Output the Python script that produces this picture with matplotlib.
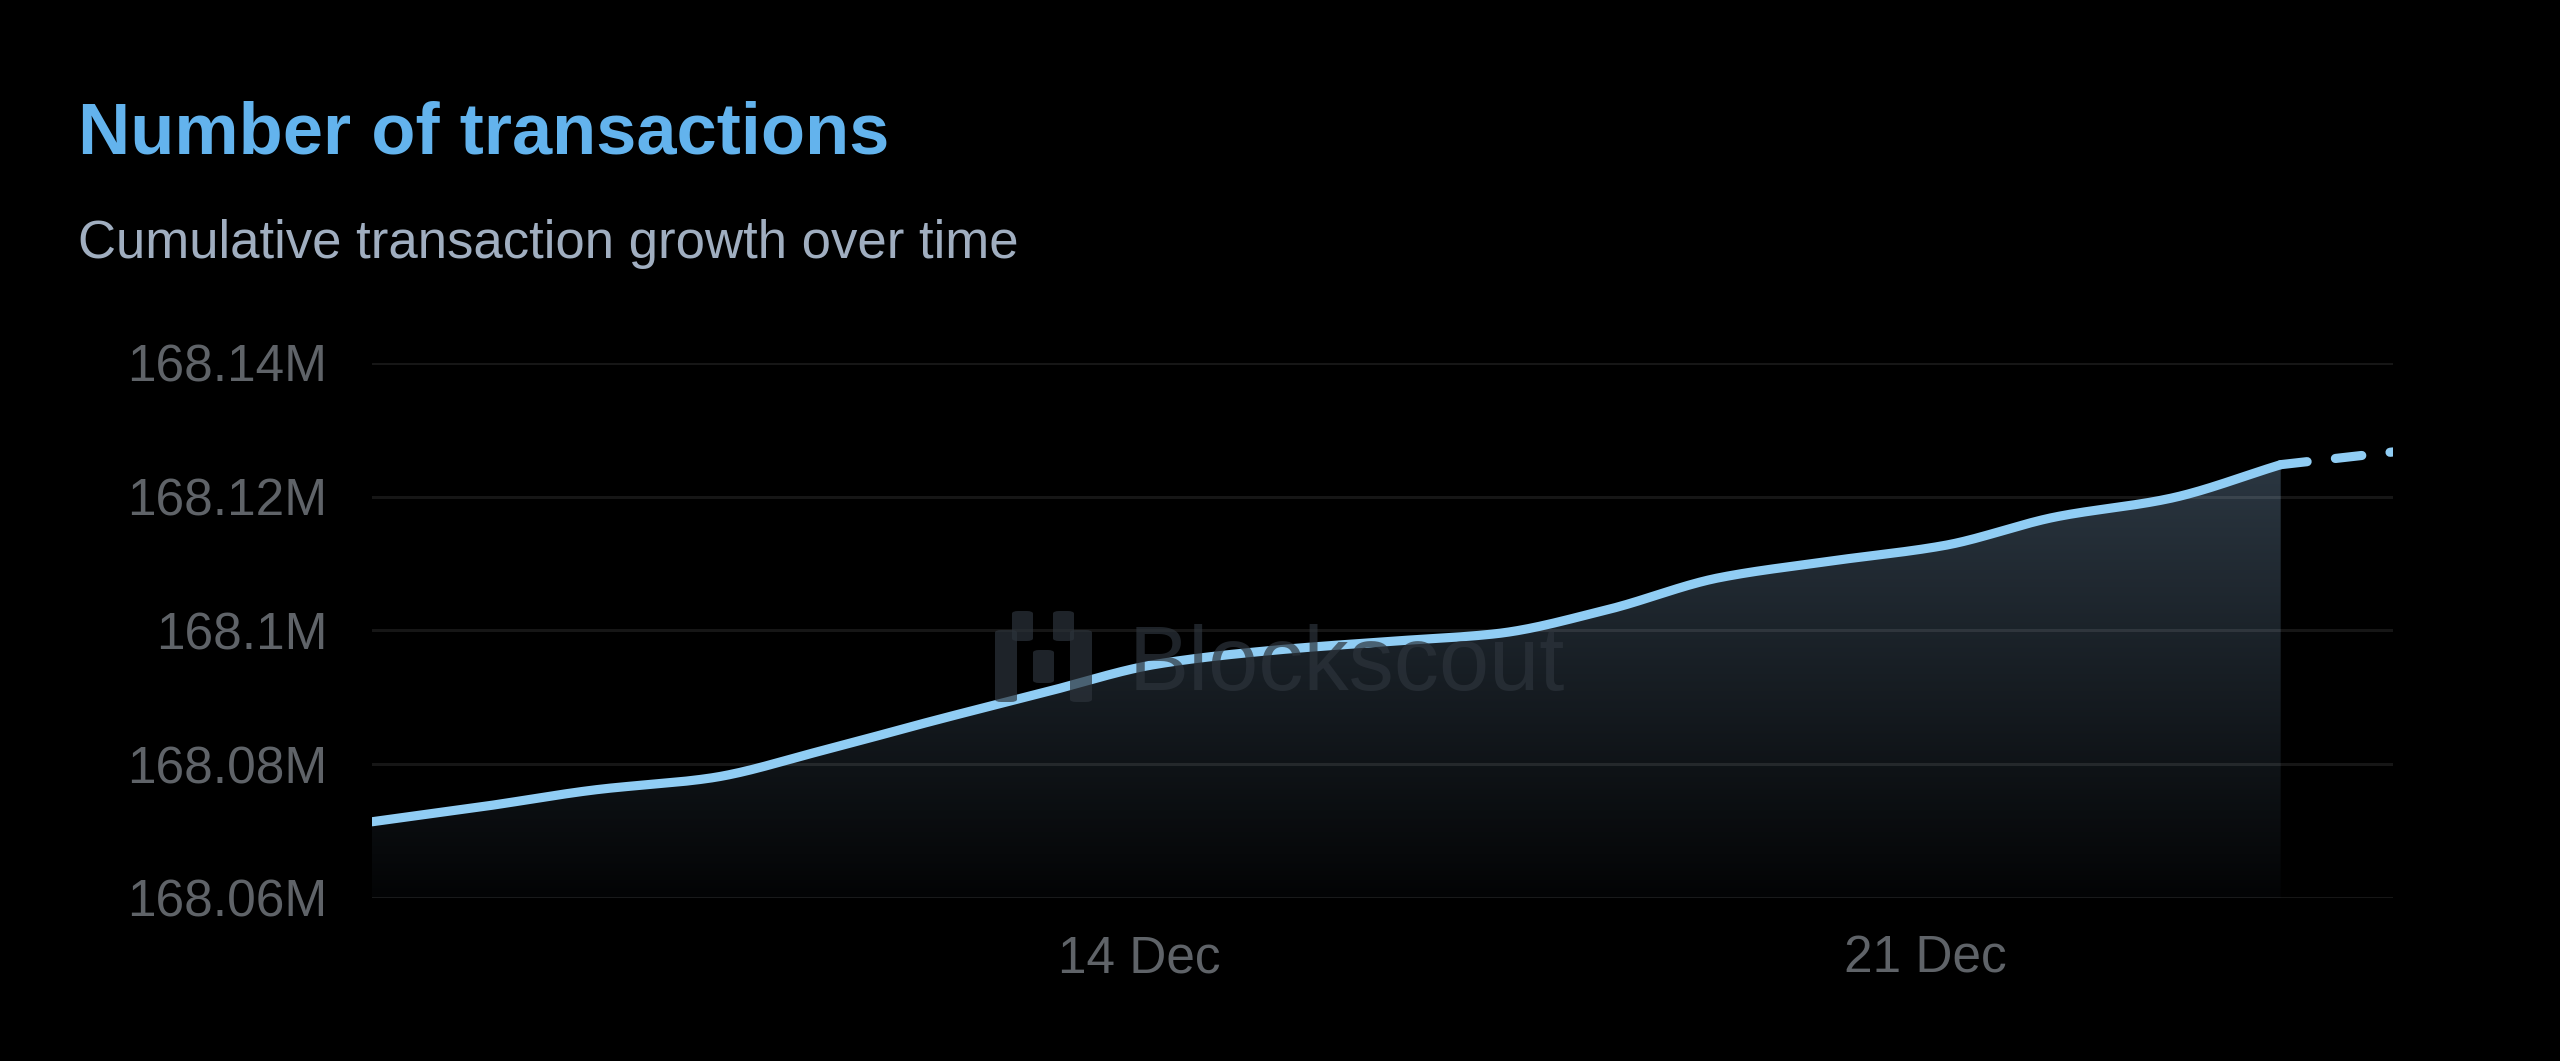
import numpy as np
import pandas as pd
import matplotlib
matplotlib.use("Agg")
import matplotlib.pyplot as plt
import matplotlib.transforms as mtransforms
from matplotlib.patches import FancyBboxPatch
from matplotlib.ticker import FuncFormatter

# Data: cumulative transactions, daily
dates = pd.date_range("2024-12-07", periods=19, freq="D")
tx_total = [168071400, 168073700, 168076200, 168077900, 168082000, 168086500,
            168090800, 168095000, 168097000, 168098300, 168099500, 168103100,
            168107900, 168110400, 168112700, 168117000, 168119700, 168124800,
            168126700]
n_solid = 18  # last point is the incomplete day (dashed)

y_ticks = [168060000, 168080000, 168100000, 168120000, 168140000]
x_ticks = [pd.Timestamp("2024-12-14"), pd.Timestamp("2024-12-21")]
x_labels = ["14 Dec", "21 Dec"]

title = "Number of transactions"
subtitle = "Cumulative transaction growth over time"

plt.rcParams["font.family"] = ["Liberation Sans", "DejaVu Sans"]

bg = "#000000"
line_col = "#90CDF4"
tick_col = "#5F6368"


def monotone(x, y, n=40):
    # monotone cubic curve through the points (like d3 curveMonotoneX)
    x = np.asarray(x, float)
    y = np.asarray(y, float)
    h = np.diff(x)
    d = np.diff(y) / h
    m = np.zeros_like(y)
    m[0], m[-1] = d[0], d[-1]
    for i in range(1, len(y) - 1):
        if d[i - 1] * d[i] <= 0:
            m[i] = 0
        else:
            w1 = 2 * h[i] + h[i - 1]
            w2 = h[i] + 2 * h[i - 1]
            m[i] = (w1 + w2) / (w1 / d[i - 1] + w2 / d[i])
    xs, ys = [], []
    for i in range(len(x) - 1):
        t = np.linspace(0, 1, n, endpoint=False)
        h00 = 2 * t**3 - 3 * t**2 + 1
        h10 = t**3 - 2 * t**2 + t
        h01 = -2 * t**3 + 3 * t**2
        h11 = t**3 - t**2
        xs.append(x[i] + t * h[i])
        ys.append(h00 * y[i] + h10 * h[i] * m[i] + h01 * y[i + 1] + h11 * h[i] * m[i + 1])
    xs.append([x[-1]])
    ys.append([y[-1]])
    return np.concatenate(xs), np.concatenate(ys)


xnum = matplotlib.dates.date2num(dates)
xs, ys = monotone(xnum[:n_solid], tx_total[:n_solid])

fig = plt.figure(figsize=(12.8, 5.305), dpi=200, facecolor=bg)
ax = fig.add_axes([372 / 2560, 1 - 898 / 1061, (2393 - 372) / 2560, (898 - 363) / 1061])
ax.set_facecolor(bg)

ax.set_xlim(xnum[0], xnum[-1])
ax.set_ylim(y_ticks[0], y_ticks[-1])

# gradient fill under the solid part
poly = ax.fill_between(xs, ys, y_ticks[0], color="none", lw=0)
grad = np.zeros((256, 1, 4))
top = np.array([52, 66, 79]) / 255
bot = np.array([3, 4, 5]) / 255
f = np.linspace(1, 0, 256)[:, None]
grad[:, 0, :3] = bot + (top - bot) * f
grad[:, 0, 3] = 1
img = ax.imshow(grad, aspect="auto", origin="upper",
                extent=[xnum[0], xnum[-1], y_ticks[0], y_ticks[-1]], zorder=1)
img.set_clip_path(poly.get_paths()[0], transform=ax.transData)

# grid
for yv in y_ticks:
    ax.axhline(yv, color="white", alpha=0.09, lw=1.1, zorder=2)

# watermark
wm_col = "#2c333b"
fig.text(1129 / 2560, 1 - 690 / 1061, "Blockscout", fontsize=32.5,
         color=wm_col, alpha=0.7, ha="left", va="baseline", zorder=2.5)
for (x0, y0, w, hgt) in [(1012, 611, 21, 30), (1053, 611, 21, 30),
                         (995, 630, 22, 72), (1070, 630, 22, 72),
                         (1033, 650, 21, 33)]:
    fig.patches.append(FancyBboxPatch((x0 / 2560, 1 - (y0 + hgt) / 1061), w / 2560, hgt / 1061,
                                      boxstyle="round,pad=0,rounding_size=0.0025",
                                      transform=fig.transFigure, color=wm_col, alpha=0.7,
                                      zorder=2.5, lw=0))

# line
ax.plot(xs, ys, color=line_col, lw=3.3, solid_capstyle="round",
        solid_joinstyle="round", zorder=4)
xd, yd = monotone(xnum[n_solid - 1:], tx_total[n_solid - 1:])
ax.plot(xd, yd, color=line_col, lw=3.3, dash_capstyle="round",
        linestyle=(0, (2.9, 3.1)), zorder=4)

for s in ax.spines.values():
    s.set_visible(False)

ax.set_yticks(y_ticks)
ax.yaxis.set_major_formatter(FuncFormatter(lambda v, p: f"{v / 1e6:g}M"))
ax.set_xticks(matplotlib.dates.date2num(x_ticks))
ax.set_xticklabels(x_labels)
ax.tick_params(axis="both", length=0, labelsize=18.5, colors=tick_col)
ax.tick_params(axis="y", pad=16)
ax.tick_params(axis="x", pad=13)
offset = mtransforms.ScaledTranslation(-19 / 200, 0, fig.dpi_scale_trans)
for lbl in ax.get_xticklabels():
    lbl.set_transform(lbl.get_transform() + offset)

fig.text(78 / 2560, 1 - 153 / 1061, title, fontsize=26, fontweight="bold",
         color="#63B3ED", ha="left", va="baseline")
fig.text(78 / 2560, 1 - 258 / 1061, subtitle, fontsize=19, color="#A0AEC0",
         ha="left", va="baseline")

fig.savefig("out.png", dpi=200, facecolor=bg)
